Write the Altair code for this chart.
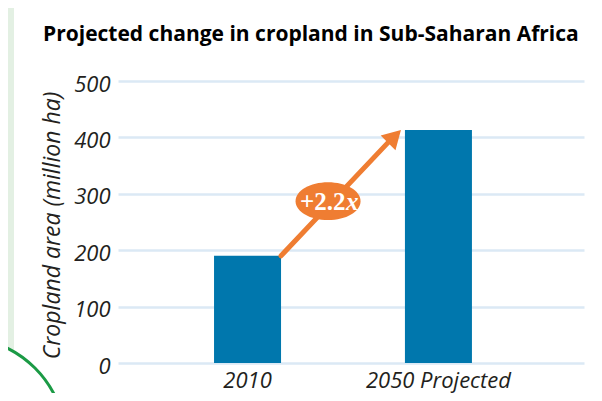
import altair as alt
import pandas as pd

# ---- data ----
categories = ["2010", "2050 Projected"]
values = [190, 413]
y_ticks = [0, 100, 200, 300, 400, 500]
title_text = "Projected change in cropland in Sub-Saharan Africa"
y_title = "Cropland area (million ha)"
arrow_from = ("2010", 190)
arrow_to = ("2050 Projected", 400)
arrow_tip = ("2050 Projected", 413)
badge_main = "+2.2"
badge_x = "x"
badge_value = 287

W, H = 466, 282
BLUE = "#0077ad"
ORANGE = "#ef7d32"
GRID = "#dbe9f5"
BG_GREEN = "#e3f0e3"
TXT = "#231f20"
FONT = "Open Sans"

bars_df = pd.DataFrame({"cat": categories, "val": values})
one = pd.DataFrame({"t": [title_text]})
arrow_df = pd.DataFrame({"x": [arrow_from[0]], "x2": [arrow_to[0]],
                         "y": [arrow_from[1]], "y2": [arrow_to[1]]})
tip_df = pd.DataFrame({"x": [arrow_tip[0]], "y": [arrow_tip[1]]})
badge_df = pd.DataFrame({"x": [arrow_from[0]], "y": [badge_value],
                         "t": [badge_main], "tx": [badge_x]})

xscale = alt.Scale(domain=categories, paddingInner=0.649, paddingOuter=0.545, align=0.4615)
yscale = alt.Scale(domain=[0, 500], nice=False)

# decorative background elements
strip = alt.Chart(one).mark_rect(color=BG_GREEN).encode(
    x=alt.value(-110), x2=alt.value(-104), y=alt.value(-73), y2=alt.value(320))
circle = alt.Chart(one).mark_point(shape="circle", filled=False, fill="white", stroke="#1b9a45",
                                   strokeWidth=3, opacity=1, fillOpacity=1).encode(
    x=alt.value(-158), y=alt.value(362), size=alt.value(212 ** 2))
dot = alt.Chart(one).mark_point(shape="circle", filled=True, color="#8dc63f", opacity=1).encode(
    x=alt.value(-113), y=alt.value(334), size=alt.value(40 ** 2))
dot2 = alt.Chart(one).mark_point(shape="circle", filled=True, color=ORANGE, opacity=1).encode(
    x=alt.value(-116), y=alt.value(324), size=alt.value(12 ** 2))

bars = alt.Chart(bars_df).mark_bar(color=BLUE).encode(
    x=alt.X("cat:N", scale=xscale, sort=categories, title=None,
            axis=alt.Axis(labelAngle=0, ticks=False, domain=False, labelFont=FONT,
                          labelFontStyle="italic", labelFontSize=22, labelColor=TXT,
                          labelPadding=7)),
    y=alt.Y("val:Q", scale=yscale, title=y_title,
            axis=alt.Axis(values=y_ticks, ticks=False, domain=False, grid=True,
                          gridColor=GRID, gridWidth=2.5, labelFont=FONT,
                          labelFontStyle="italic", labelFontSize=22, labelColor=TXT,
                          labelPadding=8, labelOffset=3, titleFont=FONT,
                          titleFontStyle="italic", titleFontWeight="normal",
                          titleFontSize=23, titleColor=TXT,
                          titleX=-59, titleY=H / 2 + 3, titleAlign="center",
                          titleBaseline="alphabetic", titleAngle=-90)),
)

arrow = alt.Chart(arrow_df).mark_rule(color=ORANGE, strokeWidth=5, strokeCap="round",
                                      x2Offset=-12).encode(
    x=alt.X("x:N", scale=xscale, bandPosition=1),
    x2=alt.X2("x2", bandPosition=0),
    y=alt.Y("y:Q", scale=yscale),
    y2="y2:Q",
)

head = alt.Chart(tip_df).mark_point(shape="M0,0 L-0.42,1.56 L-1.56,0.42 Z", filled=True,
                                    color=ORANGE, opacity=1, size=676, xOffset=-4).encode(
    x=alt.X("x:N", scale=xscale, bandPosition=0),
    y=alt.Y("y:Q", scale=yscale),
)

ellipse = alt.Chart(badge_df).mark_point(
    shape="M-1,0 A1,0.58 0 1,1 1,0 A1,0.58 0 1,1 -1,0 Z", filled=True, color=ORANGE,
    opacity=1, size=4225, xOffset=47).encode(
    x=alt.X("x:N", scale=xscale, bandPosition=1),
    y=alt.Y("y:Q", scale=yscale),
)

badge_text = alt.Chart(badge_df).mark_text(font="Liberation Serif", fontWeight="bold",
                                           fontSize=25, color="white", baseline="middle",
                                           align="left", dx=19, dy=1).encode(
    x=alt.X("x:N", scale=xscale, bandPosition=1),
    y=alt.Y("y:Q", scale=yscale),
    text="t:N",
)
badge_text_x = alt.Chart(badge_df).mark_text(font="Liberation Serif", fontWeight="bold",
                                             fontStyle="italic", fontSize=25, color="white",
                                             baseline="middle", align="left", dx=65,
                                             dy=1).encode(
    x=alt.X("x:N", scale=xscale, bandPosition=1),
    y=alt.Y("y:Q", scale=yscale),
    text="tx:N",
)

title = alt.Chart(one).mark_text(font=FONT, fontWeight="bold", fontSize=21, color="black",
                                 align="left", baseline="alphabetic").encode(
    x=alt.value(-75), y=alt.value(-40), text="t:N")

chart = alt.layer(strip, circle, dot, dot2, bars, arrow, head, ellipse, badge_text,
                  badge_text_x, title).properties(
    width=W, height=H,
    padding={"left": 110, "top": 73, "right": 10, "bottom": 30},
    autosize=alt.AutoSizeParams(type="none"),
    background="white",
).configure_view(stroke=None)

chart.save("out.html", embed_options={"renderer": "svg", "actions": False})
